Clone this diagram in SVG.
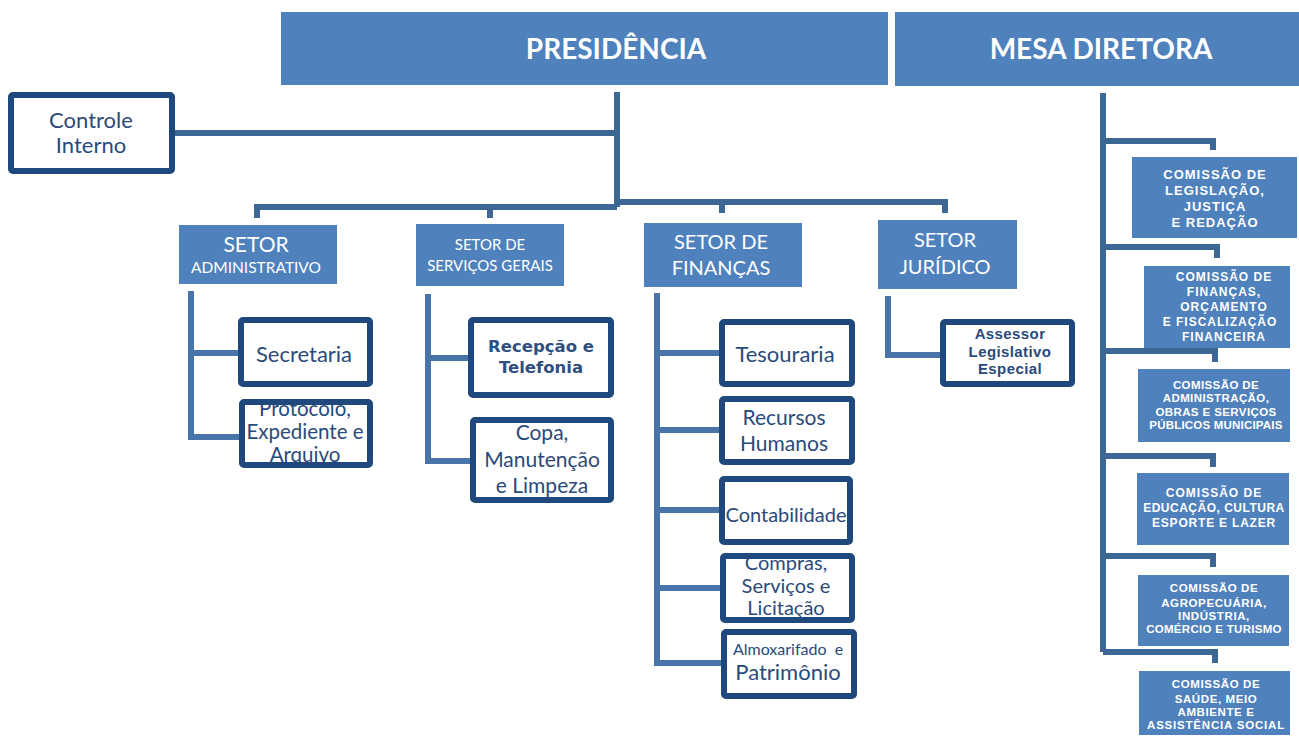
<svg xmlns="http://www.w3.org/2000/svg" width="1299" height="738" viewBox="0 0 1299 738">
<style>
.bg{fill:#ffffff}
.head{fill:#4f81bd}
.box{fill:#ffffff;stroke:#1f497d;stroke-width:6}
.frame{fill:none;stroke:#1f497d;stroke-width:6}
.ht{font-family:Lato,"Liberation Sans",sans-serif;font-weight:bold;font-size:28px;fill:#ffffff;text-anchor:middle}
.st{font-family:Lato,"Liberation Sans",sans-serif;fill:#ffffff;text-anchor:middle}
.bt{font-family:Lato,"Liberation Sans",sans-serif;fill:#2a4a7b;text-anchor:middle}
.bb{font-family:"DejaVu Sans",sans-serif;font-weight:bold;fill:#2f4f7f;text-anchor:middle}
.ab{font-family:"Liberation Sans",Arial,sans-serif;font-weight:bold;fill:#2a4a7b;text-anchor:middle;font-size:15px;letter-spacing:0.4px}
.ct{font-family:"Liberation Sans",Arial,sans-serif;font-weight:bold;fill:#ffffff;text-anchor:middle}
.c1{stroke:#3c6694;stroke-width:6;fill:none}
.c2{stroke:#4874a8;stroke-width:6;fill:none}
</style>
<rect class="bg" x="0" y="0" width="1299" height="738"/>
<g id="connectors">
<path class="c1" d="M617 92 V207"/>
<path class="c1" d="M175 133 H617"/>
<path class="c1" d="M257 218 V207 H617"/>
<path class="c1" d="M490 205 V218"/>
<path class="c1" d="M617 202 H945 V213"/>
<path class="c1" d="M722 202 V213"/>
<path class="c2" d="M191 291 V437 H239"/>
<path class="c2" d="M191 353 H238"/>
<path class="c2" d="M428 294 V461 H470"/>
<path class="c2" d="M428 358 H468"/>
<path class="c2" d="M657 293 V663 H721"/>
<path class="c2" d="M657 353 H719"/>
<path class="c2" d="M657 430 H719"/>
<path class="c2" d="M657 510 H719"/>
<path class="c2" d="M657 588 H720"/>
<path class="c2" d="M888 296 V355 H940"/>
<path class="c1" d="M1103 93 V652"/>
<path class="c1" d="M1103 141 H1213 V150"/>
<path class="c1" d="M1103 247 H1217 V258"/>
<path class="c1" d="M1103 351 H1215 V362"/>
<path class="c1" d="M1103 456 H1213 V467"/>
<path class="c1" d="M1103 556 H1213 V567"/>
<path class="c1" d="M1103 652 H1215 V663"/>
</g>
<g id="presidencia">
<rect class="head" x="281" y="12" width="607" height="73"/>
<text class="ht" x="616" y="59">PRESIDÊNCIA</text>
</g>
<g id="mesa-diretora">
<rect class="head" x="895" y="12" width="404" height="74"/>
<text class="ht" x="1101" y="59">MESA DIRETORA</text>
</g>
<g id="controle-interno">
<rect class="box" x="11" y="95" width="161" height="76" rx="2"/>
<text class="bt" font-size="22" x="91" y="128">Controle</text>
<text class="bt" font-size="22" x="91" y="153">Interno</text>
</g>
<g id="setor-administrativo">
<rect class="head" x="179" y="225" width="158" height="59"/>
<text class="st" font-size="21" x="256" y="252">SETOR</text>
<text class="st" font-size="15.5" x="256" y="273">ADMINISTRATIVO</text>
</g>
<g id="setor-servicos-gerais">
<rect class="head" x="416" y="224" width="148" height="62"/>
<text class="st" font-size="15" x="490" y="250">SETOR DE</text>
<text class="st" font-size="15" x="490" y="271">SERVIÇOS GERAIS</text>
</g>
<g id="setor-financas">
<rect class="head" x="644" y="223" width="158" height="64"/>
<text class="st" font-size="20" x="721" y="249">SETOR DE</text>
<text class="st" font-size="20" x="721" y="275">FINANÇAS</text>
</g>
<g id="setor-juridico">
<rect class="head" x="878" y="220" width="139" height="69"/>
<text class="st" font-size="20" x="945" y="247">SETOR</text>
<text class="st" font-size="20" x="945" y="274">JURÍDICO</text>
</g>
<g id="secretaria">
<rect class="box" x="241" y="320" width="129" height="64" rx="2"/>
<text class="bt" font-size="22" x="304" y="362">Secretaria</text>
</g>
<g id="protocolo">
<rect x="242" y="402" width="128" height="63" fill="#ffffff"/>
<text class="bt" font-size="20.5" x="305" y="416">Protocolo,</text>
<text class="bt" font-size="20.5" x="305" y="439">Expediente e</text>
<text class="bt" font-size="20.5" x="305" y="462">Arquivo</text>
<rect class="frame" x="242" y="402" width="128" height="63" rx="2"/>
</g>
<g id="recepcao">
<rect class="box" x="471" y="320" width="140" height="75" rx="2"/>
<text class="bb" font-size="16.5" x="541" y="352">Recepção e</text>
<text class="bb" font-size="16.5" x="541" y="373">Telefonia</text>
</g>
<g id="copa">
<rect class="box" x="473" y="420" width="138" height="80" rx="2"/>
<text class="bt" font-size="21" x="542" y="440">Copa,</text>
<text class="bt" font-size="21" x="542" y="467">Manutenção</text>
<text class="bt" font-size="21" x="542" y="493">e Limpeza</text>
</g>
<g id="tesouraria">
<rect class="box" x="722" y="322" width="130" height="62" rx="2"/>
<text class="bt" font-size="22" x="785" y="362">Tesouraria</text>
</g>
<g id="recursos-humanos">
<rect class="box" x="722" y="399" width="130" height="63" rx="2"/>
<text class="bt" font-size="21" x="784" y="425">Recursos</text>
<text class="bt" font-size="21" x="784" y="451">Humanos</text>
</g>
<g id="contabilidade">
<rect class="box" x="722" y="479" width="128" height="63" rx="2"/>
<text class="bt" font-size="20" x="786" y="522">Contabilidade</text>
</g>
<g id="compras">
<rect x="723" y="556" width="129" height="64" fill="#ffffff"/>
<text class="bt" font-size="20" x="786" y="570">Compras,</text>
<text class="bt" font-size="20" x="786" y="593">Serviços e</text>
<text class="bt" font-size="20" x="786" y="615">Licitação</text>
<rect class="frame" x="723" y="556" width="129" height="64" rx="2"/>
</g>
<g id="almoxarifado">
<rect class="box" x="724" y="632" width="130" height="64" rx="2"/>
<text class="bt" font-size="16" x="788" y="655" xml:space="preserve">Almoxarifado  e</text>
<text class="bt" font-size="22" x="788" y="680">Patrimônio</text>
</g>
<g id="assessor">
<rect class="box" x="943" y="322" width="129" height="62" rx="2" stroke-width="5"/>
<text class="ab" x="1010" y="339">Assessor</text>
<text class="ab" x="1010" y="357">Legislativo</text>
<text class="ab" x="1010" y="374">Especial</text>
</g>
<g id="comissao-legislacao">
<rect class="head" x="1132" y="157" width="165" height="81"/>
<text class="ct" font-size="13" letter-spacing="1" x="1215" y="179">COMISSÃO DE</text>
<text class="ct" font-size="13" letter-spacing="1" x="1215" y="195">LEGISLAÇÃO,</text>
<text class="ct" font-size="13" letter-spacing="1" x="1215" y="211">JUSTIÇA</text>
<text class="ct" font-size="13" letter-spacing="1" x="1215" y="227">E REDAÇÃO</text>
</g>
<g id="comissao-financas">
<rect class="head" x="1144" y="266" width="146" height="82"/>
<text class="ct" font-size="12" letter-spacing="1" x="1224" y="281">COMISSÃO DE</text>
<text class="ct" font-size="12" letter-spacing="1" x="1224" y="296">FINANÇAS,</text>
<text class="ct" font-size="12" letter-spacing="1" x="1224" y="311">ORÇAMENTO</text>
<text class="ct" font-size="12" letter-spacing="1" x="1220" y="326">E FISCALIZAÇÃO</text>
<text class="ct" font-size="12" letter-spacing="1" x="1224" y="341">FINANCEIRA</text>
</g>
<g id="comissao-administracao">
<rect class="head" x="1138" y="369" width="152" height="73"/>
<text class="ct" font-size="11.5" letter-spacing="0.4" x="1216" y="389">COMISSÃO DE</text>
<text class="ct" font-size="11.5" letter-spacing="0.4" x="1216" y="402">ADMINISTRAÇÃO,</text>
<text class="ct" font-size="11.5" letter-spacing="0.4" x="1216" y="416">OBRAS E SERVIÇOS</text>
<text class="ct" font-size="11.5" letter-spacing="0.2" x="1216" y="429">PÚBLICOS MUNICIPAIS</text>
</g>
<g id="comissao-educacao">
<rect class="head" x="1137" y="473" width="152" height="72"/>
<text class="ct" font-size="12" letter-spacing="1" x="1214" y="497">COMISSÃO DE</text>
<text class="ct" font-size="12" letter-spacing="0.5" x="1214" y="512">EDUCAÇÃO, CULTURA</text>
<text class="ct" font-size="12" letter-spacing="0.8" x="1214" y="527">ESPORTE E LAZER</text>
</g>
<g id="comissao-agropecuaria">
<rect class="head" x="1138" y="575" width="151" height="71"/>
<text class="ct" font-size="11.5" letter-spacing="0.6" x="1214" y="592">COMISSÃO DE</text>
<text class="ct" font-size="11.5" letter-spacing="0.6" x="1214" y="607">AGROPECUÁRIA,</text>
<text class="ct" font-size="11.5" letter-spacing="0.6" x="1214" y="620">INDÚSTRIA,</text>
<text class="ct" font-size="11.5" letter-spacing="0.3" x="1214" y="633">COMÉRCIO E TURISMO</text>
</g>
<g id="comissao-saude">
<rect class="head" x="1139" y="671" width="151" height="64"/>
<text class="ct" font-size="11.5" letter-spacing="0.6" x="1216" y="688">COMISSÃO DE</text>
<text class="ct" font-size="11.5" letter-spacing="0.6" x="1216" y="703">SAÚDE, MEIO</text>
<text class="ct" font-size="11.5" letter-spacing="0.6" x="1216" y="716">AMBIENTE E</text>
<text class="ct" font-size="11.5" letter-spacing="0.8" x="1216" y="729">ASSISTÊNCIA SOCIAL</text>
</g>
</svg>
